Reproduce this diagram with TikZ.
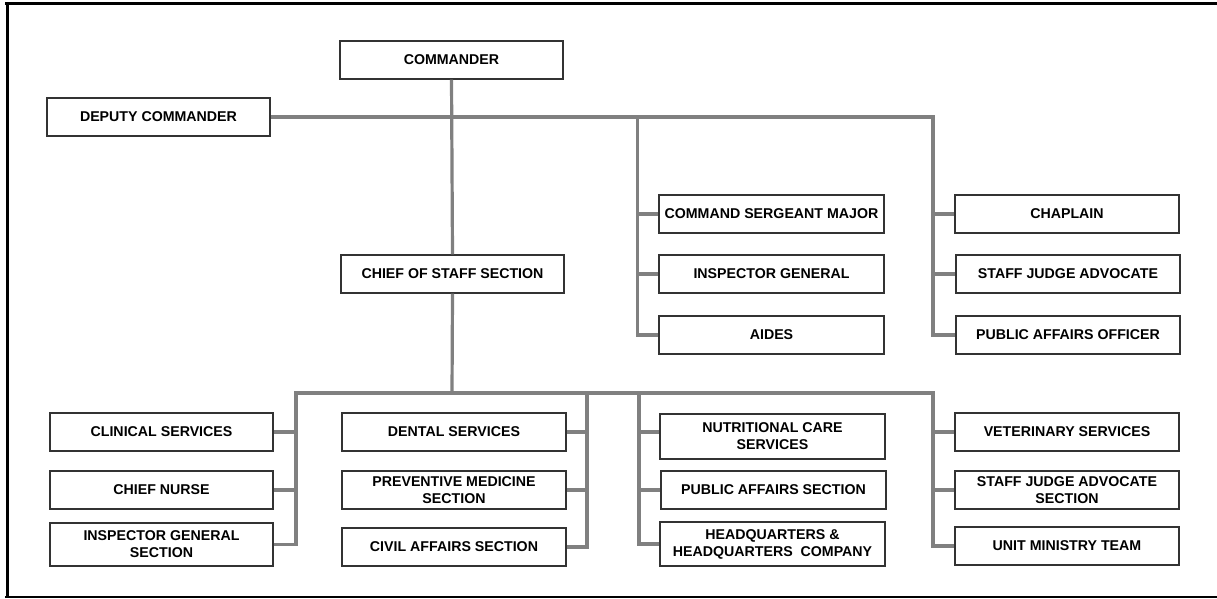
\documentclass[tikz,border=0pt]{standalone}
\usepackage{fontspec}
\setmainfont{Liberation Sans}
\begin{document}
\begin{tikzpicture}[x=1pt,y=-1pt,
  box/.style={draw=black!80, line width=1.2pt, fill=white, inner sep=0pt, align=center,
    font=\fontsize{14.2}{17}\selectfont\bfseries},
  conn/.style={draw=black!50, line width=3.2pt, line join=miter},
  frame/.style={draw=black}]
\useasboundingbox (0,0) rectangle (1217,598);
\newcommand\bx[6]{\node[box, minimum width={#4-#2}, minimum height={#5-#3}] (#1) at ({(#2+#4)/2},{(#3+#5)/2}) {#6};}
% frame
\draw[frame, line width=3pt] (5,3.5) -- (1220,3.5);
\draw[frame, line width=2.6pt] (7.2,2) -- (7.2,597.5);
\draw[frame, line width=1.6pt] (5,596.8) -- (1220,596.8);
% junction coordinates
\coordinate (t1) at (637.5,117);
\coordinate (t2) at (933,117);
\coordinate (b0) at (452,393);
\coordinate (bA) at (296,393);
\coordinate (bB) at (587,393);
\coordinate (bC) at (639,393);
\coordinate (bD) at (933,393);
\coordinate (yn) at (0,432);
% boxes
\bx{cmd}{340}{41}{563}{79}{COMMANDER}
\bx{dep}{47}{98}{270}{136}{DEPUTY COMMANDER}
\bx{cos}{341}{255}{564}{293}{CHIEF OF STAFF SECTION}
\bx{csm}{659}{195}{884}{233}{COMMAND SERGEANT MAJOR}
\bx{ig}{659}{255}{884}{293}{INSPECTOR GENERAL}
\bx{aid}{659}{316}{884}{354}{AIDES}
\bx{chap}{955}{195}{1179}{233}{CHAPLAIN}
\bx{sja}{956}{255}{1180}{293}{STAFF JUDGE ADVOCATE}
\bx{pao}{956}{316}{1180}{354}{PUBLIC AFFAIRS OFFICER}
\bx{cli}{50}{413}{273}{451}{CLINICAL SERVICES}
\bx{cn}{50}{471}{273}{509}{CHIEF NURSE}
\bx{igs}{50}{523}{273}{566}{INSPECTOR GENERAL\\SECTION}
\bx{den}{342}{413}{566}{451}{DENTAL SERVICES}
\bx{pm}{342}{471}{566}{509}{PREVENTIVE MEDICINE\\SECTION}
\bx{ca}{342}{528}{566}{566}{CIVIL AFFAIRS SECTION}
\bx{nut}{660}{414}{885}{459}{NUTRITIONAL CARE\\SERVICES}
\bx{pas}{661}{471}{886}{509}{PUBLIC AFFAIRS SECTION}
\bx{hq}{660}{522}{885}{566}{HEADQUARTERS \&\\HEADQUARTERS\ \ COMPANY}
\bx{vet}{955}{413}{1179}{451}{VETERINARY SERVICES}
\bx{sjas}{955}{471}{1179}{509}{STAFF JUDGE ADVOCATE\\SECTION}
\bx{umt}{955}{527}{1179}{565}{UNIT MINISTRY TEAM}
% top connectors
\draw[conn] (cmd.south) -- (cos.north);
\draw[conn] (dep.east) -- (t2) -- (t2 |- pao.west) -- (pao.west);
\draw[conn] (t1) -- (t1 |- aid.west) -- (aid.west);
\draw[conn] (t1 |- csm.west) -- (csm.west);
\draw[conn] (t1 |- ig.west) -- (ig.west);
\draw[conn] (t2 |- chap.west) -- (chap.west);
\draw[conn] (t2 |- sja.west) -- (sja.west);
% bottom connectors
\draw[conn] (cos.south) -- (b0);
\draw[conn] (igs.east) -- (bA |- igs.east) -- (bA) -- (bD) -- (bD |- umt.west) -- (umt.west);
\draw[conn] (bA |- cli.east) -- (cli.east);
\draw[conn] (bA |- cn.east) -- (cn.east);
\draw[conn] (bB) -- (bB |- ca.east) -- (ca.east);
\draw[conn] (bB |- den.east) -- (den.east);
\draw[conn] (bB |- pm.east) -- (pm.east);
\draw[conn] (bC) -- (bC |- hq.west) -- (hq.west);
\draw[conn] (bC |- yn) -- (nut.west |- yn);
\draw[conn] (bC |- pas.west) -- (pas.west);
\draw[conn] (bD |- vet.west) -- (vet.west);
\draw[conn] (bD |- sjas.west) -- (sjas.west);
\end{tikzpicture}
\end{document}
